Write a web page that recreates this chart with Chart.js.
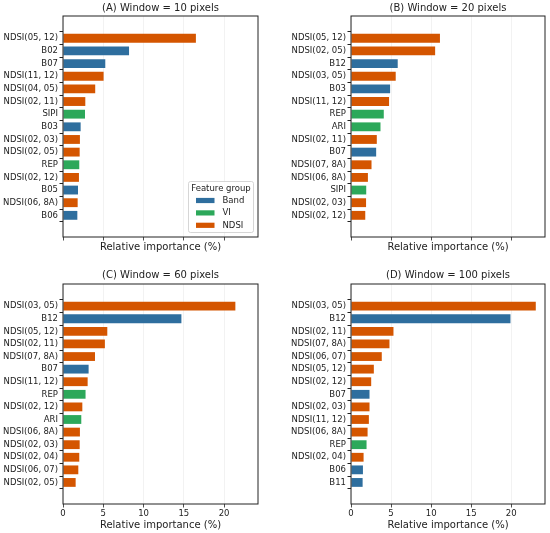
<!DOCTYPE html>
<html>
<head>
<meta charset="utf-8">
<script src="https://cdn.jsdelivr.net/npm/chart.js@4"></script>
<style>
  body { margin: 0; background: #fff; }
  #wrap { position: relative; width: 550px; height: 533px; }
  .panel { position: absolute; }
</style>
</head>
<body>
<div id="wrap">
  <div class="panel" style="left:0;top:0"><canvas id="cA" width="275" height="260"></canvas></div>
  <div class="panel" style="left:275px;top:0"><canvas id="cB" width="275" height="260"></canvas></div>
  <div class="panel" style="left:0;top:260px"><canvas id="cC" width="275" height="273"></canvas></div>
  <div class="panel" style="left:275px;top:260px"><canvas id="cD" width="275" height="273"></canvas></div>
</div>
<script>
// --- dados ---
const catsA = ['NDSI(05, 12)', 'B02', 'B07', 'NDSI(11, 12)', 'NDSI(04, 05)', 'NDSI(02, 11)', 'SIPI', 'B03',
  'NDSI(02, 03)', 'NDSI(02, 05)', 'REP', 'NDSI(02, 12)', 'B05', 'NDSI(06, 8A)', 'B06'];
const valsA = [16.5, 8.2, 5.25, 5.04, 4.0, 2.77, 2.73, 2.19, 2.1, 2.07, 2.02, 1.98, 1.86, 1.82, 1.78];

const catsB = ['NDSI(05, 12)', 'NDSI(02, 05)', 'B12', 'NDSI(03, 05)', 'B03', 'NDSI(11, 12)', 'REP', 'ARI',
  'NDSI(02, 11)', 'B07', 'NDSI(07, 8A)', 'NDSI(06, 8A)', 'SIPI', 'NDSI(02, 03)', 'NDSI(02, 12)'];
const valsB = [11.1, 10.5, 5.83, 5.58, 4.88, 4.75, 4.09, 3.68, 3.22, 3.14, 2.56, 2.11, 1.9, 1.88, 1.78];

const catsC = ['NDSI(03, 05)', 'B12', 'NDSI(05, 12)', 'NDSI(02, 11)', 'NDSI(07, 8A)', 'B07', 'NDSI(11, 12)', 'REP',
  'NDSI(02, 12)', 'ARI', 'NDSI(06, 8A)', 'NDSI(02, 03)', 'NDSI(02, 04)', 'NDSI(06, 07)', 'NDSI(02, 05)'];
const valsC = [21.4, 14.7, 5.5, 5.2, 3.97, 3.18, 3.06, 2.8, 2.4, 2.27, 2.1, 2.07, 2.02, 1.9, 1.57];

const catsD = ['NDSI(03, 05)', 'B12', 'NDSI(02, 11)', 'NDSI(07, 8A)', 'NDSI(06, 07)', 'NDSI(05, 12)', 'NDSI(02, 12)', 'B07',
  'NDSI(02, 03)', 'NDSI(11, 12)', 'NDSI(06, 8A)', 'REP', 'NDSI(02, 04)', 'B06', 'B11'];
const valsD = [23.06, 19.9, 5.3, 4.8, 3.84, 2.85, 2.52, 2.31, 2.31, 2.23, 2.07, 1.94, 1.57, 1.49, 1.45];

const xTicks = [0, 5, 10, 15, 20];
const groups = ['Band', 'VI', 'NDSI'];
const viNames = ['SIPI', 'REP', 'ARI'];
const groupColors = { Band: '#2e6e9e', VI: '#2ca85a', NDSI: '#d45500' };

const FONT = 'DejaVu Sans';
const INK = '#222';

function grupo(nome) {
  if (nome.startsWith('NDSI')) return 'NDSI';
  if (viNames.includes(nome)) return 'VI';
  return 'Band';
}

// moldura + títulos + legenda desenhados por cima
const decor = {
  id: 'decor',
  afterDraw(chart, args, opts) {
    const ctx = chart.ctx, a = chart.chartArea;
    ctx.save();
    ctx.strokeStyle = INK;
    ctx.lineWidth = 1;
    ctx.strokeRect(a.left, a.top, a.right - a.left, a.bottom - a.top);
    ctx.fillStyle = INK;
    ctx.textAlign = 'center';
    ctx.textBaseline = 'middle';
    ctx.font = '10px "' + FONT + '"';
    ctx.fillText(opts.title, (a.left + a.right) / 2, opts.titleY);
    ctx.fillText('Relative importance (%)', (a.left + a.right) / 2, opts.labelY);
    if (opts.legend) {
      const lx = 188.5, ly = 181.5, lw = 65, lh = 51;
      ctx.fillStyle = 'rgba(255,255,255,0.85)';
      ctx.strokeStyle = '#ccc';
      ctx.lineWidth = 0.8;
      ctx.beginPath();
      ctx.roundRect(lx, ly, lw, lh, 2);
      ctx.fill();
      ctx.stroke();
      ctx.fillStyle = INK;
      ctx.font = '8.5px "' + FONT + '"';
      ctx.fillText('Feature group', lx + lw / 2, 188.5);
      ctx.textAlign = 'left';
      groups.forEach((g, i) => {
        const y = 200.5 + i * 12.4;
        ctx.fillStyle = groupColors[g];
        ctx.fillRect(196, y - 2.6, 18.5, 5.2);
        ctx.fillStyle = INK;
        ctx.fillText(g, 222.5, y);
      });
    }
    ctx.restore();
  }
};

function painel(id, cats, vals, cfg) {
  const n = cats.length;
  new Chart(document.getElementById(id), {
    type: 'bar',
    data: {
      datasets: [{
        data: vals.map((v, i) => ({ x: v, y: i })),
        backgroundColor: cats.map(c => groupColors[grupo(c)]),
        borderWidth: 0,
        categoryPercentage: 1,
        barPercentage: 0.7
      }]
    },
    options: {
      indexAxis: 'y',
      responsive: false,
      animation: false,
      layout: { padding: { top: cfg.top, right: cfg.right, left: 0, bottom: 0 } },
      plugins: {
        legend: { display: false },
        tooltip: { enabled: false },
        decor: { title: cfg.title, titleY: cfg.titleY, labelY: cfg.labelY, legend: cfg.legend }
      },
      scales: {
        x: {
          type: 'linear',
          min: 0,
          max: 24.21,
          afterBuildTicks: s => { s.ticks = xTicks.map(v => ({ value: v })); },
          afterFit: s => { s.height = cfg.bottom; },
          grid: { color: '#efefef', tickColor: INK, tickLength: 3.5, lineWidth: 0.8 },
          border: { display: false },
          ticks: {
            color: INK,
            padding: 1.5,
            maxRotation: 0,
            font: { family: FONT, size: 8.5 },
            callback: v => cfg.showX ? String(v) : ''
          }
        },
        y: {
          type: 'linear',
          reverse: true,
          min: -1.18,
          max: n - 1 + 1.13,
          afterBuildTicks: s => { s.ticks = cats.map((c, i) => ({ value: i })); },
          afterFit: s => { s.width = cfg.left; },
          grid: { drawOnChartArea: false, tickColor: INK, tickLength: 3.5 },
          border: { display: false },
          ticks: {
            color: INK,
            padding: 1.5,
            autoSkip: false,
            font: { family: FONT, size: 8.5 },
            callback: v => cats[v]
          }
        }
      }
    },
    plugins: [decor]
  });
}

painel('cA', catsA, valsA, { title: '(A) Window = 10 pixels', top: 16, right: 17, left: 63, bottom: 23, titleY: 8, labelY: 247, showX: false, legend: true });
painel('cB', catsB, valsB, { title: '(B) Window = 20 pixels', top: 16, right: 5, left: 76, bottom: 23, titleY: 8, labelY: 247, showX: false, legend: false });
painel('cC', catsC, valsC, { title: '(C) Window = 60 pixels', top: 24, right: 17, left: 63, bottom: 29, titleY: 15.7, labelY: 265, showX: true, legend: false });
painel('cD', catsD, valsD, { title: '(D) Window = 100 pixels', top: 24, right: 5, left: 76, bottom: 29, titleY: 15.7, labelY: 265, showX: true, legend: false });
</script>
</body>
</html>
